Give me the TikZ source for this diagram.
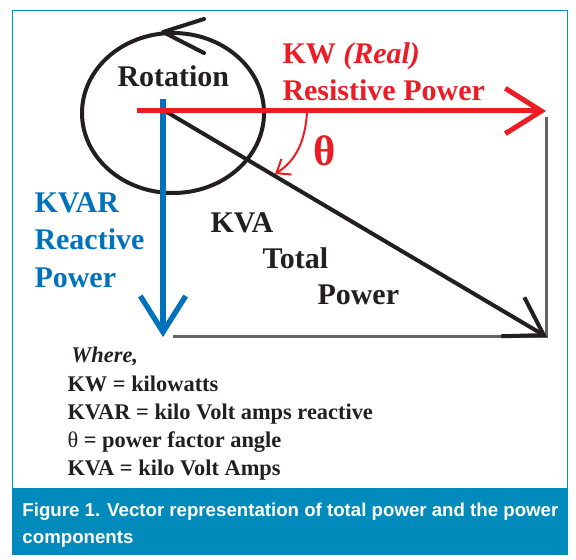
\documentclass[tikz,border=0pt]{standalone}
\usepackage{fontspec}
\setmainfont{Liberation Serif}
\newfontfamily\capfont{Liberation Sans}
\usetikzlibrary{arrows.meta}

\definecolor{kwred}{RGB}{237,28,36}
\definecolor{kvarblue}{RGB}{0,114,188}
\definecolor{framecyan}{RGB}{0,150,200}
\definecolor{capfill}{RGB}{0,139,188}
\definecolor{edgegray}{RGB}{100,100,100}
\definecolor{inkblack}{RGB}{35,31,32}

\tikzset{every picture/.style={line width=0.75pt}}
\tikzset{
  barb/.style={-{Straight Barb[length=27pt,width=34pt]}},
  bigtext/.style={anchor=base west,inner sep=0pt,font=\bfseries\fontsize{22.5}{27}\selectfont},
  legtext/.style={anchor=base west,inner sep=0pt,font=\bfseries\fontsize{16.8}{20}\selectfont,text=inkblack},
  captext/.style={anchor=base west,inner sep=0pt,font=\capfont\bfseries\fontsize{14}{17}\selectfont,text=white},
}

\begin{document}
\begin{tikzpicture}[x=0.75pt,y=0.75pt,yscale=-1,xscale=1]
\useasboundingbox (0,0) rectangle (576,560);

%Frame and caption band
\draw [framecyan, line width=0.9pt] (12.5,488) -- (12.5,10.5) -- (567.5,10.5) -- (567.5,488) ;
\fill [capfill] (12,488) rectangle (568,555) ;

%Points
\coordinate (kwstart) at (137,111);
\coordinate (kwend) at (546,111);
\coordinate (kvarstart) at (163,99);
\coordinate (kvarend) at (163,337);
\coordinate (origin) at (165,111);
\coordinate (kvaend) at (547,337);
\coordinate (kwfoot) at (546,117);
\coordinate (corner) at (546,337);
\coordinate (kvarfoot) at (173,337);
\coordinate (rotcenter) at (173,113);
\coordinate (rottip) at (163,32);
\coordinate (thetastart) at (307,113);
\coordinate (thetaend) at (275,174);

%Gray closing sides
\draw [edgegray, line width=2.25pt] (kwfoot) -- (corner) -- (kvarfoot) ;

%Rotation ellipse
\draw [inkblack, line width=3pt] (rotcenter) ellipse [x radius=91, y radius=80] ;
\draw [inkblack, line width=3pt, line cap=round, line join=round] (204,19) -- (rottip) -- (204,53) ;

%KVA vector
\draw [inkblack, line width=3pt, barb, line cap=round] (origin) -- (kvaend) ;
%KVAR vector
\draw [kvarblue, line width=4pt, barb] (kvarstart) -- (kvarend) ;
%KW vector
\draw [kwred, line width=3.75pt, barb] (kwstart) -- (kwend) ;

%Angle arc
\draw [kwred, line width=1.5pt, -{Straight Barb[length=9pt,width=14pt]}] (thetastart) .. controls (305,140) and (297,160) .. (thetaend) ;

% Text Node
\node [bigtext, text=inkblack] (rotlabel) at (117,87) {Rotation};
% Text Node
\node [bigtext, text=kwred] (kwlabel) at (282,64) {KW \textit{(Real)}};
% Text Node
\node [bigtext, text=kwred] (reslabel) at (282,101) {Resistive Power};
% Text Node
\node [anchor=base west, inner sep=0pt, text=kwred, font=\bfseries\fontsize{32}{36}\selectfont] (thetalabel) at (313,166) {θ};
% Text Node
\node [bigtext, text=kvarblue] (kvarlabel) at (34,213) {KVAR};
\node [bigtext, text=kvarblue] (reactlabel) at (34,250) {Reactive};
\node [bigtext, text=kvarblue] (kvarpower) at (34,287) {Power};
% Text Node
\node [bigtext, text=inkblack] (kvalabel) at (210,233) {KVA};
\node [bigtext, text=inkblack] (totallabel) at (262,268) {Total};
\node [bigtext, text=inkblack] (kvapower) at (317,305) {Power};

% Legend
\node [legtext] (legwhere) at (71,363) {\textit{Where,}};
\node [legtext] (legkw) at (67,392) {KW = kilowatts};
\node [legtext] (legkvar) at (67,420) {KVAR = kilo Volt amps reactive};
\node [legtext] (legtheta) at (67,447) {\textmd{θ} = power factor angle};
\node [legtext] (legkva) at (67,475) {KVA = kilo Volt Amps};

% Caption
\node [captext] (capone) at (22,516) {Figure 1. Vector representation of total power and the power};
\node [captext] (captwo) at (22,543) {components};

\end{tikzpicture}
\end{document}
